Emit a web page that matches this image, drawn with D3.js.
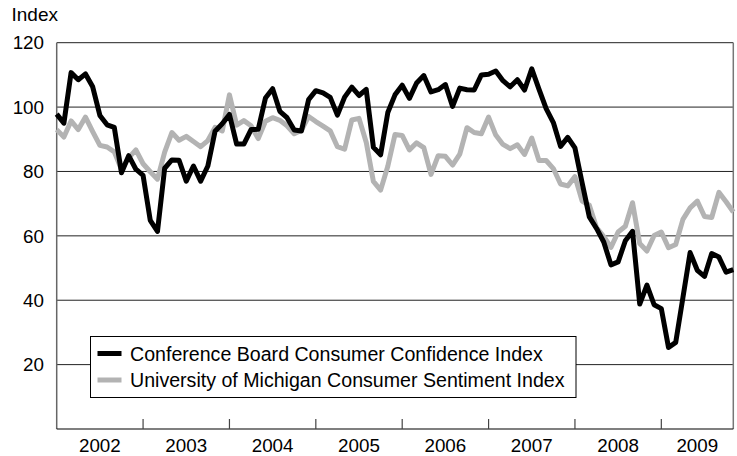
<!DOCTYPE html>
<html>
<head>
<meta charset="utf-8">
<script src="https://cdn.jsdelivr.net/npm/d3@7"></script>
<style>
  html, body { margin: 0; padding: 0; background: #fff; }
  svg { display: block; font-family: "Liberation Sans", Arial, sans-serif; }
</style>
</head>
<body>
<svg id="chart" width="737" height="456"></svg>
<script>
// Monthly data, Jan 2002 .. Nov 2009
const years = ["2002", "2003", "2004", "2005", "2006", "2007", "2008", "2009"];
const conferenceBoard = [
  97.8, 95.0, 110.7, 108.5, 110.3, 106.3, 97.4, 94.5, 93.7, 79.6, 84.9, 80.7,
  78.8, 64.8, 61.4, 81.0, 83.6, 83.5, 77.0, 81.7, 77.0, 81.7, 92.5, 94.8,
  97.7, 88.5, 88.5, 93.0, 93.1, 102.8, 105.7, 98.7, 96.7, 92.9, 92.6, 102.3,
  105.1, 104.4, 103.0, 97.5, 103.1, 106.2, 103.6, 105.5, 87.5, 85.2, 98.3, 103.8,
  106.8, 102.7, 107.5, 109.8, 104.7, 105.4, 107.0, 100.2, 105.9, 105.4, 105.3, 110.0,
  110.2, 111.2, 108.2, 106.3, 108.5, 105.3, 111.9, 105.6, 99.5, 95.2, 87.8, 90.6,
  87.3, 76.4, 65.9, 62.3, 58.1, 51.0, 51.9, 58.5, 61.4, 38.8, 44.7, 38.6,
  37.4, 25.3, 26.9, 40.8, 54.8, 49.3, 47.4, 54.5, 53.4, 48.7, 49.5
];
const michigan = [
  93.0, 90.7, 95.7, 93.0, 96.9, 92.4, 88.1, 87.6, 86.1, 80.6, 84.2, 86.7,
  82.4, 79.9, 77.6, 86.0, 92.1, 89.7, 90.9, 89.3, 87.7, 89.6, 93.7, 92.6,
  103.8, 94.4, 95.8, 94.2, 90.2, 95.6, 96.7, 95.9, 94.2, 91.7, 92.8, 97.1,
  95.5, 94.1, 92.6, 87.7, 86.9, 96.0, 96.5, 89.1, 76.9, 74.2, 81.6, 91.5,
  91.2, 86.7, 88.9, 87.4, 79.1, 84.9, 84.7, 82.0, 85.4, 93.6, 92.1, 91.7,
  96.9, 91.3, 88.4, 87.1, 88.3, 85.3, 90.4, 83.4, 83.4, 80.9, 76.1, 75.5,
  78.4, 70.8, 69.5, 62.6, 59.8, 56.4, 61.2, 63.0, 70.3, 57.6, 55.3, 60.1,
  61.2, 56.3, 57.3, 65.1, 68.7, 70.8, 66.0, 65.7, 73.5, 70.6, 67.4
];
const yTicks = [20, 40, 60, 80, 100, 120];
const seriesNames = [
  "Conference Board Consumer Confidence Index",
  "University of Michigan Consumer Sentiment Index"
];
const seriesColors = ["#000000", "#b3b3b3"];

(function () {
const svg = d3.select("#chart");
const mLeft = 56.7, mRight = 733.3, mTop = 42.7, mBottom = 429;
const n = conferenceBoard.length;

const x = d3.scaleLinear().domain([0, n - 1]).range([mLeft, mRight]);
const y = d3.scaleLinear().domain([0, 120]).range([mBottom, mTop]);

// gridlines
svg.append("g").selectAll("line").data(yTicks).join("line")
  .attr("x1", mLeft).attr("x2", mRight)
  .attr("y1", d => y(d)).attr("y2", d => y(d))
  .attr("stroke", "#222").attr("stroke-width", 1);

// y labels
svg.append("g").selectAll("text").data(yTicks).join("text")
  .attr("x", 44).attr("y", d => y(d)).attr("dy", "0.36em")
  .attr("text-anchor", "end").attr("font-size", 18.8).attr("fill", "#000")
  .text(d => d);

svg.append("text").attr("x", 11.5).attr("y", 21).attr("font-size", 19)
  .attr("fill", "#000").text("Index");

// frame: right border, left axis, bottom axis
svg.append("line").attr("x1", mRight).attr("x2", mRight).attr("y1", mTop).attr("y2", mBottom)
  .attr("stroke", "#777").attr("stroke-width", 1.5);
svg.append("line").attr("x1", mLeft).attr("x2", mLeft).attr("y1", mTop).attr("y2", mBottom)
  .attr("stroke", "#666").attr("stroke-width", 1.5);
svg.append("line").attr("x1", mLeft).attr("x2", mRight).attr("y1", mBottom).attr("y2", mBottom)
  .attr("stroke", "#000").attr("stroke-width", 1.2);

// x ticks at year boundaries
const boundaries = d3.range(12, n, 12);
svg.append("g").selectAll("line").data(boundaries).join("line")
  .attr("x1", d => x(d)).attr("x2", d => x(d))
  .attr("y1", mBottom).attr("y2", mBottom - 10)
  .attr("stroke", "#444").attr("stroke-width", 1.2);

// year labels centred within each (possibly partial) year
svg.append("g").selectAll("text").data(years).join("text")
  .attr("x", (d, i) => (x(i * 12) + x(Math.min((i + 1) * 12, n - 1))) / 2)
  .attr("y", 452).attr("text-anchor", "middle").attr("font-size", 18.8).attr("fill", "#000")
  .text(d => d);

// lines
const line = d3.line().x((d, i) => x(i)).y(d => y(d));
[michigan, conferenceBoard].forEach((s, k) => {
  svg.append("path").datum(s)
    .attr("d", line)
    .attr("fill", "none")
    .attr("stroke", k === 0 ? seriesColors[1] : seriesColors[0])
    .attr("stroke-width", 5)
    .attr("stroke-linejoin", "round");
});

// legend
const lg = svg.append("g");
lg.append("rect").attr("x", 90.5).attr("y", 336.5).attr("width", 485.5).attr("height", 61)
  .attr("fill", "#fff").attr("stroke", "#000").attr("stroke-width", 1);
seriesNames.forEach((name, i) => {
  const yy = 353.5 + i * 26.5;
  lg.append("line").attr("x1", 97.5).attr("x2", 121.5).attr("y1", yy).attr("y2", yy)
    .attr("stroke", seriesColors[i]).attr("stroke-width", 5);
  lg.append("text").attr("x", 130).attr("y", yy).attr("dy", "0.36em")
    .attr("font-size", 19.6).attr("fill", "#000").text(name);
});
})();
</script>
</body>
</html>
